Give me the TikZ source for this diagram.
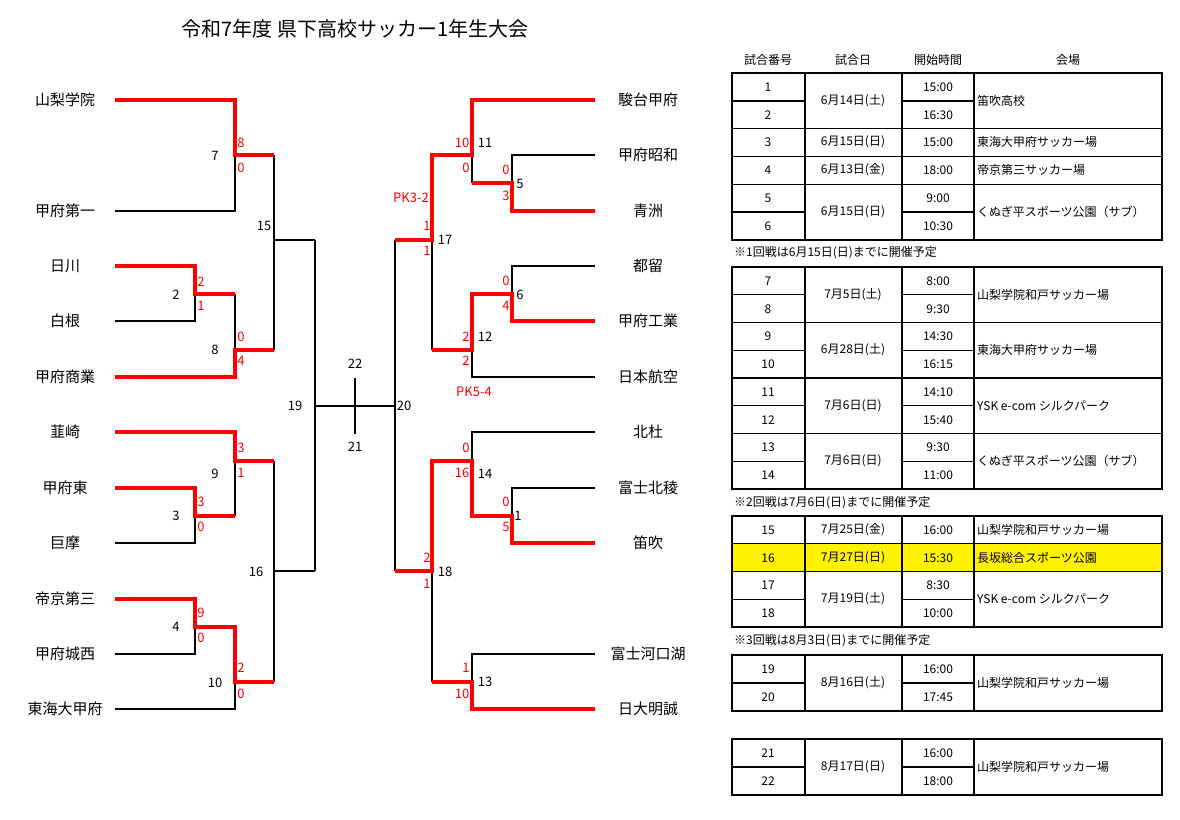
\documentclass[tikz,border=0pt]{standalone}
\usepackage{fontspec}
\setmainfont{Noto Sans CJK JP}
\begin{document}
\begin{tikzpicture}[x=1pt,y=-1pt,
  bl/.style={line width=1.6pt,black},
  rd/.style={line width=4.2pt,red,line join=miter},
  team/.style={font=\fontsize{15}{15}\selectfont,inner sep=0pt},
  sc/.style={font=\fontsize{13}{13}\selectfont,text=red,inner sep=0pt},
  mn/.style={font=\fontsize{13}{13}\selectfont,inner sep=0pt},
  tb/.style={font=\fontsize{12}{12}\selectfont,inner sep=0pt},
  tl/.style={line width=1.4pt,black}]
\useasboundingbox (0,0) rectangle (1180,819);
\node[font=\fontsize{20}{20}\selectfont] (title) at (355,29) {令和7年度 県下高校サッカー1年生大会};
% left teams
\foreach \t/\y [count=\i] in {山梨学院/100,甲府第一/211,日川/266,白根/321,甲府商業/377,韮崎/432,甲府東/488,巨摩/543,帝京第三/599,甲府城西/654,東海大甲府/709}
  \node[team] (L\i) at (65,\y) {\t};
\foreach \t/\y [count=\i] in {駿台甲府/100,甲府昭和/155,青洲/211,都留/266,甲府工業/321,日本航空/377,北杜/432,富士北稜/488,笛吹/543,富士河口湖/654,日大明誠/709}
  \node[team] (R\i) at (648,\y) {\t};
% left black
\draw[bl] (115,211)--(235,211)--(235,155);
\draw[bl] (115,321)--(195,321)--(195,294);
\draw[bl] (235,294)--(235,350);
\draw[bl] (274,155)--(274,350) (274,240)--(315,240);
\draw[bl] (115,543)--(195,543)--(195,516);
\draw[bl] (235,461)--(235,516);
\draw[bl] (115,654)--(195,654)--(195,627);
\draw[bl] (115,709)--(235,709)--(235,682);
\draw[bl] (274,461)--(274,682) (274,571)--(315,571);
\draw[bl] (315,240)--(315,571) (315,406)--(395,406);
\draw[bl] (355,378)--(355,434);
% left red
\draw[rd] (115,100)--(235,100)--(235,155)--(274,155);
\draw[rd] (115,266)--(195,266)--(195,294)--(235,294);
\draw[rd] (115,377)--(235,377)--(235,350)--(274,350);
\draw[rd] (115,432)--(235,432)--(235,461)--(274,461);
\draw[rd] (115,488)--(195,488)--(195,516)--(235,516);
\draw[rd] (115,599)--(195,599)--(195,627)--(235,627)--(235,682)--(274,682);
% right black
\draw[bl] (395,240)--(395,571);
\draw[bl] (595,155)--(512,155)--(512,183);
\draw[bl] (472,155)--(472,183);
\draw[bl] (432,240)--(432,350);
\draw[bl] (595,266)--(512,266)--(512,294);
\draw[bl] (595,377)--(472,377)--(472,350);
\draw[bl] (595,432)--(472,432)--(472,461);
\draw[bl] (595,488)--(512,488)--(512,516);
\draw[bl] (432,571)--(432,682);
\draw[bl] (595,654)--(472,654)--(472,682);
% right red
\draw[rd] (595,100)--(472,100)--(472,155)--(432,155)--(432,240)--(395,240);
\draw[rd] (595,211)--(512,211)--(512,183)--(472,183);
\draw[rd] (595,321)--(512,321)--(512,294)--(472,294)--(472,350)--(432,350);
\draw[rd] (595,543)--(512,543)--(512,516)--(472,516)--(472,461)--(432,461)--(432,571)--(395,571);
\draw[rd] (595,709)--(472,709)--(472,682)--(432,682);
% match numbers
\foreach \n/\x/\y in {7/215/156,2/176/295,8/215/350,15/264/226,9/215/474,3/176/516,4/176/627,10/215/683,16/256/572,19/295/406,22/355/364,21/355/447,20/404/406,11/485/143,5/520/184,6/520/295,12/485/337,17/445/240,14/485/474,1/518/516,18/445/572,13/485/682}
  \node[mn] (m\n) at (\x,\y) {\n};
% scores
\foreach \s/\x/\y [count=\i] in {8/241/143,0/241/168,2/201/282,1/201/306,0/241/337,4/241/361,3/241/448,1/241/473,3/201/502,0/201/527,9/201/613,0/201/638,2/241/668,0/241/694,10/462/143,0/466/168,0/506/170,3/506/196,1/427/226,1/427/251,0/506/281,4/506/306,2/466/337,2/466/361,0/466/448,16/462/473,0/506/502,5/506/527,2/427/558,1/427/584,1/466/668,10/462/694}
  \node[sc] (s\i) at (\x,\y) {\s};
\node[sc] (pk1) at (411,198) {PK3-2};
\node[sc] (pk2) at (474,392) {PK5-4};
% table
\foreach \t/\x in {試合番号/768,試合日/853,開始時間/938,会場/1068}
  \node[tb] (h\x) at (\x,60) {\t};
\fill[yellow] (732,543.75) rectangle (1162,571.5);
\foreach \a/\b in {73/240,267/489,516/627,655/711,739/795}{
  \draw[tl] (732,\a) rectangle (1162,\b);
  \draw[tl] (805,\a)--(805,\b) (902,\a)--(902,\b) (974,\a)--(974,\b);}
% partial lines (cols 1 and 3)
\foreach \y in {100.8,212,294.75,350.25,405.75,461.25,599.25,683,767}
  \draw[tl] (732,\y)--(805,\y) (902,\y)--(974,\y);
\foreach \y in {128.6,156.4,184.2,322.5,378,433.5,543.75,571.5}
  \draw[tl] (732,\y)--(1162,\y);
% numbers and times
\foreach \n/\t/\y in {1/15:00/87,2/16:30/115,3/15:00/142,4/18:00/170,5/9:00/198,6/10:30/226,7/8:00/281,8/9:30/309,9/14:30/336,10/16:15/364,11/14:10/392,12/15:40/420,13/9:30/447,14/11:00/475,15/16:00/530,16/15:30/558,17/8:30/585,18/10:00/613,19/16:00/669,20/17:45/697,21/16:00/753,22/18:00/781}{
  \node[tb] (n\n) at (768,\y) {\n};
  \node[tb] (t\n) at (938,\y) {\t};}
% dates
\foreach \d/\y [count=\i] in {6月14日(土)/101,6月15日(日)/142,6月13日(金)/170,6月15日(日)/212,7月5日(土)/295,6月28日(土)/350,7月6日(日)/406,7月6日(日)/461,7月25日(金)/530,7月27日(日)/558,7月19日(土)/599,8月16日(土)/683,8月17日(日)/767}
  \node[tb] (d\i) at (853,\y) {\d};
% venues
\foreach \v/\y [count=\i] in {笛吹高校/101,東海大甲府サッカー場/142,帝京第三サッカー場/170,くぬぎ平スポーツ公園（サブ）/212,山梨学院和戸サッカー場/295,東海大甲府サッカー場/350,YSK e-com シルクパーク/406,くぬぎ平スポーツ公園（サブ）/461,山梨学院和戸サッカー場/530,長坂総合スポーツ公園/558,YSK e-com シルクパーク/599,山梨学院和戸サッカー場/683,山梨学院和戸サッカー場/767}
  \node[tb,anchor=west] (v\i) at (977,\y) {\v};
\node[tb,anchor=west] (note1) at (734,253) {※1回戦は6月15日(日)までに開催予定};
\node[tb,anchor=west] (note2) at (734,503) {※2回戦は7月6日(日)までに開催予定};
\node[tb,anchor=west] (note3) at (734,641) {※3回戦は8月3日(日)までに開催予定};
\end{tikzpicture}
\end{document}
